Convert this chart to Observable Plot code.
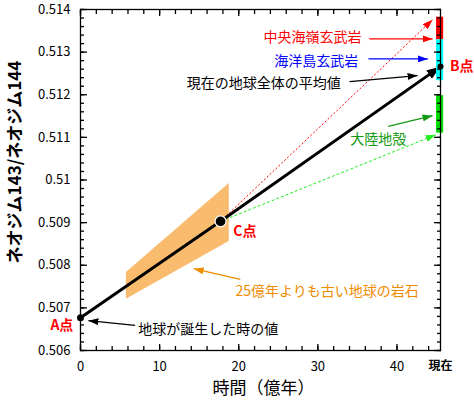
<!DOCTYPE html>
<html><head><meta charset="utf-8">
<script src="https://cdn.jsdelivr.net/npm/d3@7"></script>
<script src="https://cdn.jsdelivr.net/npm/@observablehq/plot@0.6"></script>
<style>body{margin:0;background:#fff}</style>
</head><body><div id="chart"></div>
<script>
// Axis ticks
const xMajor = [0, 10, 20, 30, 40];
const xMajorLabels = ["0", "10", "20", "30", "40"];
const xMinor = d3.range(0, 46, 2);
const xNowValue = 45.5;
const xNowLabel = "現在";
const yMajor = [0.506, 0.507, 0.508, 0.509, 0.510, 0.511, 0.512, 0.513, 0.514];
const yMajorLabels = ["0.506", "0.507", "0.508", "0.509", "0.51", "0.511", "0.512", "0.513", "0.514"];
const yMinor = d3.range(0, 41).map(i => 0.506 + i * 0.0002);
const xDomain = [0, 45.5];
const yDomain = [0.506, 0.514];

// Evolution of the bulk earth (A -> C -> B)
const pointNames = ["A点", "C点", "B点"];
const pointTime = [0, 17.7, 45.5];
const pointRatio = [0.50677, 0.50903, 0.51266];

// Old rocks (>2.5 Ga) band
const bandTime = [5.8, 18.8];
const bandLow = [0.50720, 0.50856];
const bandHigh = [0.50783, 0.50992];

// Projections from C
const projNames = ["中央海嶺玄武岩", "大陸地殻"];
const projTime = [44.5, 44.9];
const projRatio = [0.51376, 0.51106];

// Present-day reservoirs (bars at right edge)
const resNames = ["中央海嶺玄武岩", "海洋島玄武岩", "大陸地殻"];
const resLow = [0.51329, 0.51233, 0.51110];
const resHigh = [0.51382, 0.51329, 0.51198];
const resColors = ["#ff0000", "#00ffff", "#00dd00"];

// Annotation texts
const noteText = ["中央海嶺玄武岩", "海洋島玄武岩", "現在の地球全体の平均値", "大陸地殻", "25億年よりも古い地球の岩石", "地球が誕生した時の値"];
const noteTime = [35.5, 35.1, 32.9, 34.1, 19.6, 7.3];
const noteRatio = [0.51334, 0.51278, 0.51226, 0.51095, 0.50738, 0.50649];
const noteAnchor = ["end", "end", "end", "start", "start", "start"];
const noteColor = ["#ff0000", "#0000ff", "#000000", "#119911", "#f08c00", "#000000"];

// Annotation arrows
const arrowX1 = [36.5, 36.4, 34.0, 38.9, 20.2, 6.9];
const arrowY1 = [0.51331, 0.51284, 0.51231, 0.51126, 0.50767, 0.50659];
const arrowX2 = [44.5, 43.9, 42.6, 44.5, 14.3, 1.0];
const arrowY2 = [0.51331, 0.51284, 0.51245, 0.51151, 0.50792, 0.50670];
const arrowColor = ["#ff0000", "#0000ff", "#000000", "#119911", "#f08c00", "#000000"];

// Point labels
const labelTime = [-0.9, 19.3, 46.7];
const labelRatio = [0.50659, 0.50879, 0.51266];
const labelAnchor = ["end", "start", "start"];

function tri(len, half) {
  return (color) => {
    const ns = "http://www.w3.org/2000/svg";
    const m = document.createElementNS(ns, "marker");
    m.setAttribute("viewBox", `${-len} ${-half} ${len} ${2 * half}`);
    m.setAttribute("markerWidth", len);
    m.setAttribute("markerHeight", 2 * half);
    m.setAttribute("markerUnits", "userSpaceOnUse");
    m.setAttribute("refX", 0);
    m.setAttribute("refY", 0);
    m.setAttribute("orient", "auto");
    const p = document.createElementNS(ns, "path");
    p.setAttribute("d", `M${-len},${-half}L0,0L${-len},${half}Z`);
    p.setAttribute("fill", color);
    p.setAttribute("stroke", "none");
    p.setAttribute("stroke-dasharray", "none");
    m.appendChild(p);
    return m;
  };
}
const smallHead = tri(10, 3.5);
const bigHead = tri(14, 5);

const pts = pointTime.map((t, i) => ({t, r: pointRatio[i], name: pointNames[i]}));
const band = bandTime.map((t, i) => ({t, lo: bandLow[i], hi: bandHigh[i]}));
const proj = projTime.map((t, i) => ({x1: pointTime[1], y1: pointRatio[1], x2: t, y2: projRatio[i], name: projNames[i]}));
const res = resNames.map((n, i) => ({n, lo: resLow[i], hi: resHigh[i], c: resColors[i]}));
const notes = noteText.map((s, i) => ({s, t: noteTime[i], r: noteRatio[i], a: noteAnchor[i], c: noteColor[i]}));
const arrows = arrowX1.map((x1, i) => ({x1, y1: arrowY1[i], x2: arrowX2[i], y2: arrowY2[i], c: arrowColor[i]}));
const plabels = pointNames.map((n, i) => ({n, t: labelTime[i], r: labelRatio[i], a: labelAnchor[i]}));

const font = "'Noto Sans CJK JP', 'Noto Sans', sans-serif";

const chart = Plot.plot({
  width: 474,
  height: 405,
  marginLeft: 80,
  marginRight: 34,
  marginTop: 9,
  marginBottom: 55,
  style: {fontFamily: font, fontSize: "13px", background: "#fff", color: "#000"},
  x: {domain: xDomain},
  y: {domain: yDomain},
  marks: [
    Plot.areaY(band, {x: "t", y1: "lo", y2: "hi", fill: "#f9bb6e"}),
    Plot.link(proj.slice(0, 1), {x1: "x1", y1: "y1", x2: "x2", y2: "y2", stroke: "#ff0000", strokeWidth: 1, strokeDasharray: "2,2", markerEnd: smallHead}),
    Plot.link(proj.slice(1), {x1: "x1", y1: "y1", x2: "x2", y2: "y2", stroke: "#22ee22", strokeWidth: 1, strokeDasharray: "3,2", markerEnd: smallHead}),
    Plot.line(pts, {x: "t", y: "r", stroke: "#000", strokeWidth: 3, markerEnd: bigHead}),
    Plot.link(arrows, {x1: "x1", y1: "y1", x2: "x2", y2: "y2", stroke: d => d.c, strokeWidth: 1.2, markerEnd: smallHead}),
    Plot.rect(res, {x1: 45.0, x2: 45.9, y1: "lo", y2: "hi", fill: d => d.c}),
    Plot.axisX(xMajor, {anchor: "bottom", tickSize: -6, strokeWidth: 1.3, fill: "none", label: null}),
    Plot.axisX(xMinor, {anchor: "bottom", tickSize: -4, strokeWidth: 1.3, fill: "none", label: null}),
    Plot.axisX(xMajor, {anchor: "top", tickSize: -6, strokeWidth: 1.3, fill: "none", label: null}),
    Plot.axisX(xMinor, {anchor: "top", tickSize: -4, strokeWidth: 1.3, fill: "none", label: null}),
    Plot.axisY(yMajor, {anchor: "left", tickSize: -7, strokeWidth: 1.3, fill: "none", label: null}),
    Plot.axisY(yMinor, {anchor: "left", tickSize: -4, strokeWidth: 1.3, fill: "none", label: null}),
    Plot.axisY(yMajor, {anchor: "right", tickSize: -7, strokeWidth: 1.3, fill: "none", label: null}),
    Plot.axisY(yMinor, {anchor: "right", tickSize: -4, strokeWidth: 1.3, fill: "none", label: null}),
    Plot.frame({stroke: "#000", strokeWidth: 1.3}),
    Plot.axisX(xMajor, {anchor: "bottom", tickSize: 0, tickPadding: 11, tickFormat: (d, i) => xMajorLabels[i], fontSize: 13, label: null}),
    Plot.axisY(yMajor, {anchor: "left", tickSize: 0, tickPadding: 10, tickFormat: (d, i) => yMajorLabels[i], fontSize: 13, label: null}),
    Plot.text([xNowLabel], {x: [xNowValue], frameAnchor: "bottom", dy: 16, fontSize: 12, fontWeight: "bold", lineAnchor: "middle"}),
    Plot.dot(pts.slice(0, 1), {x: "t", y: "r", r: 3.5, fill: "#000"}),
    Plot.dot(pts.slice(1, 2), {x: "t", y: "r", r: 5.5, fill: "#000", stroke: "#fff", strokeWidth: 1.2}),
    Plot.dot(pts.slice(2), {x: "t", y: "r", r: 3, fill: "#000"}),
    Plot.text(notes.filter(d => d.a === "start"), {x: "t", y: "r", text: "s", textAnchor: "start", fill: d => d.c, fontSize: 14}),
    Plot.text(notes.filter(d => d.a === "end"), {x: "t", y: "r", text: "s", textAnchor: "end", fill: d => d.c, fontSize: 14}),
    Plot.text(plabels.filter(d => d.a === "end"), {x: "t", y: "r", text: "n", textAnchor: "end", fill: "#ff0000", fontSize: 14, fontWeight: "bold"}),
    Plot.text(plabels.filter(d => d.a === "start"), {x: "t", y: "r", text: "n", textAnchor: "start", fill: "#ff0000", fontSize: 14, fontWeight: "bold"}),
    Plot.text(["ネオジム143/ネオジム144"], {frameAnchor: "left", textAnchor: "middle", rotate: -90, dx: -65, dy: -18, fontSize: 17, fontWeight: "bold"}),
    Plot.text(["時間（億年）"], {frameAnchor: "bottom", textAnchor: "middle", dx: 3, dy: 43, fontSize: 17})
  ]
});
document.getElementById("chart").appendChild(chart);
</script>
</body></html>
